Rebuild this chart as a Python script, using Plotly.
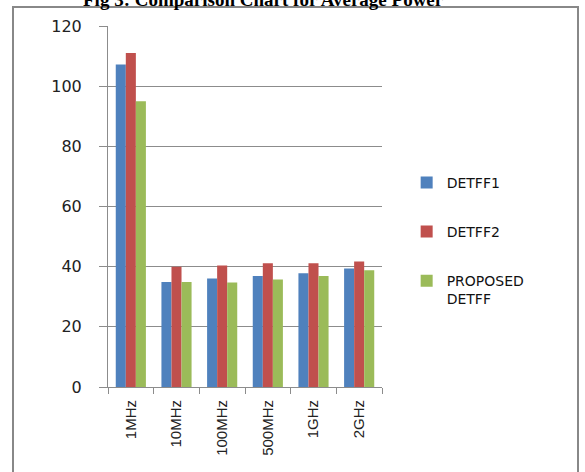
import plotly.graph_objects as go

categories = ["1MHz", "10MHz", "100MHz", "500MHz", "1GHz", "2GHz"]
detff1 = [107.2, 34.9, 36.1, 36.9, 37.8, 39.4]
detff2 = [111.0, 40.0, 40.4, 41.1, 41.1, 41.7]
proposed = [95.0, 34.9, 34.7, 35.7, 36.9, 38.8]
series_names = ["DETFF1", "DETFF2", "PROPOSED<br>DETFF"]
colors = ["#4F81BD", "#C0504D", "#9BBB59"]
y_ticks = [0, 20, 40, 60, 80, 100, 120]

fig = go.Figure()
for i, (name, vals) in enumerate(zip(series_names, [detff1, detff2, proposed])):
    fig.add_trace(go.Bar(
        x=categories, y=vals, name=name, legendgroup=str(i),
        marker=dict(color=colors[i], line=dict(width=0)),
    ))

fig.update_layout(
    width=585, height=472,
    margin=dict(l=108, r=203, t=26, b=85),
    plot_bgcolor="white", paper_bgcolor="white",
    barmode="group", bargap=0.34, bargroupgap=0,
    font=dict(family="DejaVu Sans", color="#222"),
    legend=dict(
        x=1.09, y=0.61, xanchor="left", yanchor="top",
        font=dict(family="DejaVu Sans", size=14, color="#111"),
        traceorder="grouped", tracegroupgap=28, valign="top",
        bgcolor="rgba(0,0,0,0)",
    ),
    showlegend=True,
)
fig.update_yaxes(
    range=[0, 120], tickvals=y_ticks, showgrid=True, gridcolor="#8c8c8c", gridwidth=1,
    showline=True, linecolor="#8c8c8c", linewidth=1,
    ticks="outside", ticklen=8, tickcolor="#8c8c8c", ticklabelstandoff=14,
    tickfont=dict(family="DejaVu Sans", size=16, color="#222"),
    zeroline=False,
)
fig.update_xaxes(
    showline=True, linecolor="#8c8c8c", linewidth=1,
    ticks="outside", ticklen=6, tickcolor="#8c8c8c", tickson="boundaries",
    ticklabelstandoff=6,
    tickangle=-90, tickfont=dict(family="Liberation Sans", size=15, color="#222"),
)

# outer frame
fig.add_shape(type="rect", xref="paper", yref="paper",
              x0=(13 - 108) / 274, x1=(578 - 108) / 274,
              y0=(387 - 490) / 361, y1=(387 - 7) / 361,
              line=dict(color="#888888", width=2), fillcolor="rgba(0,0,0,0)", layer="below")

fig.add_annotation(
    text="<b>Fig 3: Comparison Chart for Average Power</b>",
    xref="paper", yref="paper", x=(263 - 108) / 274, y=(387 - (-1)) / 361,
    xanchor="center", yanchor="middle", showarrow=False,
    font=dict(family="Liberation Serif", size=19, color="#000"),
)

fig.write_html("out.html")
